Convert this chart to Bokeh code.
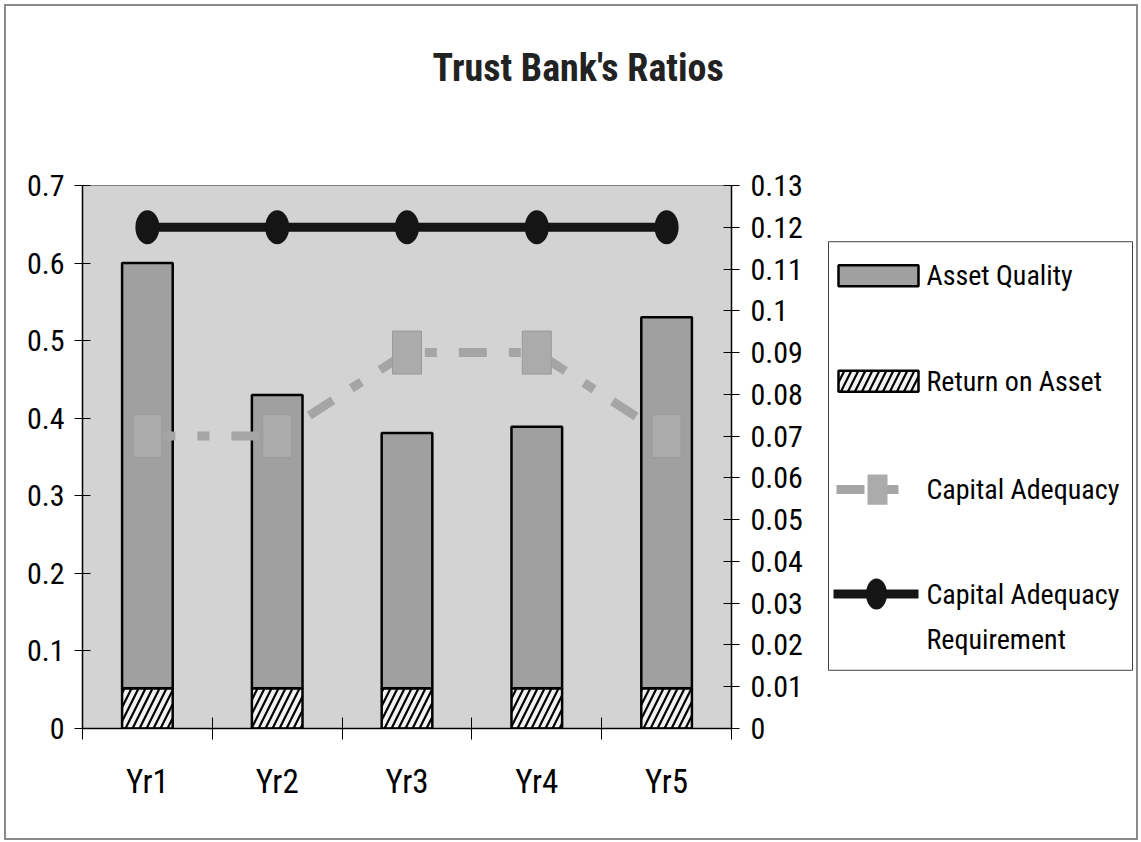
from bokeh.plotting import figure
from bokeh.layouts import row
from bokeh.models import (Range1d, LinearAxis, FixedTicker, Title, ColumnDataSource)
from bokeh.core.properties import value
from bokeh.embed import file_html
from bokeh.resources import INLINE

# ---------------- data ----------------
years = ["Yr1", "Yr2", "Yr3", "Yr4", "Yr5"]
return_on_asset = [0.052, 0.052, 0.052, 0.052, 0.052]
asset_quality = [0.548, 0.378, 0.329, 0.337, 0.478]
capital_adequacy = [0.07, 0.07, 0.09, 0.09, 0.07]
capital_requirement = [0.12, 0.12, 0.12, 0.12, 0.12]

left_ticks = [0.0, 0.1, 0.2, 0.3, 0.4, 0.5, 0.6, 0.7]
left_labels = ["0", "0.1", "0.2", "0.3", "0.4", "0.5", "0.6", "0.7"]
right_ticks = [0.0, 0.01, 0.02, 0.03, 0.04, 0.05, 0.06, 0.07, 0.08, 0.09,
               0.1, 0.11, 0.12, 0.13]
right_labels = ["0", "0.01", "0.02", "0.03", "0.04", "0.05", "0.06", "0.07",
                "0.08", "0.09", "0.1", "0.11", "0.12", "0.13"]
title_text = "Trust Bank's Ratios"
legend_labels = ["Asset Quality", "Return on Asset", "Capital Adequacy",
                 "Capital Adequacy\nRequirement"]

FONT = "Liberation Sans Narrow, Arial Narrow, Roboto Condensed, sans-serif"

BAR_FILL = "#a0a0a0"
HATCH_BG = "#f2f2f2"
CA_LINE = "#a5a5a5"
CA_MARK = "#ababab"
REQ = "#151515"

# ---------------- derived ----------------
n = len(years)
xc = [i + 0.5 for i in range(n)]
aq_bottom = return_on_asset
aq_top = [r + a for r, a in zip(return_on_asset, asset_quality)]

src = ColumnDataSource(dict(x=xc, roa=return_on_asset, aqb=aq_bottom, aqt=aq_top,
                            ca=capital_adequacy, req=capital_requirement))

H = 832
p = figure(width=799, height=H, output_backend="svg", toolbar_location=None,
           x_range=Range1d(0, n), y_range=Range1d(0, 0.7), title=None)
p.extra_y_ranges = {"y2": Range1d(0, 0.13)}

p.min_border_left = 76
p.min_border_right = 70
p.min_border_top = 179
p.min_border_bottom = 110

p.background_fill_color = "#d3d3d3"
p.border_fill_color = "white"
p.outline_line_color = "#808080"
p.outline_line_width = 1
p.xgrid.visible = False
p.ygrid.visible = False

# title (a blank spacer panel sits between the frame and the title)
p.add_layout(Title(text=" ", text_font_size="10px", standoff=83), "above")
p.add_layout(Title(text=title_text, align="left", offset=350, standoff=0,
                   vertical_align="bottom", text_font=FONT, text_font_size="38px",
                   text_font_style="bold", text_color="#222222"), "above")

# bars
bar_w = 0.39
bar_kw = dict(line_color="black", line_width=2.5)
hatch_kw = dict(fill_color=HATCH_BG, hatch_pattern="/", hatch_color="black",
                hatch_weight=2.2, hatch_scale=14)
p.vbar(x="x", top="roa", bottom=0, width=bar_w, source=src, **bar_kw, **hatch_kw)
p.vbar(x="x", top="aqt", bottom="aqb", width=bar_w, source=src,
       fill_color=BAR_FILL, **bar_kw)

# capital adequacy (secondary axis)
ca_kw = dict(line_color=CA_LINE, line_width=9, line_dash="28 22 12 22")
p.line("x", "ca", source=src, y_range_name="y2", **ca_kw)
p.rect("x", "ca", width=29, height=43, width_units="screen", height_units="screen",
       source=src, y_range_name="y2", fill_color=CA_MARK, line_color="#9a9a9a",
       line_width=1)

# requirement
req_kw = dict(line_color=REQ, line_width=9)
p.line("x", "req", source=src, y_range_name="y2", **req_kw)
p.ellipse("x", "req", width=24, height=34, width_units="screen",
          height_units="screen", source=src, y_range_name="y2",
          fill_color=REQ, line_color=None)

# axes
p.xaxis.ticker = FixedTicker(ticks=xc, minor_ticks=list(range(n + 1)))
p.xaxis.major_label_overrides = {x: yv for x, yv in zip(xc, years)}
p.xaxis.major_tick_in = 0
p.xaxis.major_tick_out = 0
p.xaxis.minor_tick_in = 11
p.xaxis.minor_tick_out = 11
p.xaxis.minor_tick_line_color = "black"
p.xaxis.axis_line_color = "black"
p.xaxis.axis_line_width = 1.5
p.xaxis.major_label_standoff = 22
p.xaxis.major_label_text_font = FONT
p.xaxis.major_label_text_font_size = "33px"
p.xaxis.major_label_text_color = "black"

p.yaxis.ticker = FixedTicker(ticks=left_ticks, minor_ticks=[])
p.yaxis.major_label_overrides = {t: l for t, l in zip(left_ticks, left_labels)}
p.yaxis.major_tick_in = 8
p.yaxis.major_tick_out = 8
p.yaxis.minor_tick_line_color = None
p.yaxis.axis_line_color = "black"
p.yaxis.axis_line_width = 1.5
p.yaxis.major_label_standoff = 10
p.yaxis.major_label_text_font = FONT
p.yaxis.major_label_text_font_size = "30px"
p.yaxis.major_label_text_color = "black"

ax2 = LinearAxis(y_range_name="y2",
                 ticker=FixedTicker(ticks=right_ticks, minor_ticks=[]))
ax2.major_label_overrides = {t: l for t, l in zip(right_ticks, right_labels)}
ax2.major_tick_in = 8
ax2.major_tick_out = 8
ax2.minor_tick_line_color = None
ax2.axis_line_color = "black"
ax2.axis_line_width = 1.5
ax2.major_label_standoff = 11
ax2.major_label_text_font = FONT
ax2.major_label_text_font_size = "30px"
ax2.major_label_text_color = "black"
p.add_layout(ax2, "right")

# ---------------- legend panel (pixel-like coordinates) ----------------
q = figure(width=331, height=H, output_backend="svg", toolbar_location=None,
           x_axis_type=None, y_axis_type=None,
           x_range=Range1d(805, 1136), y_range=Range1d(726, 185))
q.min_border = 0
q.outline_line_color = None
q.background_fill_color = "white"
q.border_fill_color = "white"
q.grid.visible = False

# legend layout constants
box_l, box_r, box_t, box_b = 828, 1132, 241, 668
sw_l, sw_r, sw_h = 838, 918, 21
row_y = [275, 380, 488, 592]
text_x, line_gap = 926, 45

q.quad(left=box_l, right=box_r, top=box_t, bottom=box_b, fill_color="white",
       line_color="#404040", line_width=1)
# Asset Quality swatch
q.quad(left=sw_l, right=sw_r, top=row_y[0] - sw_h / 2, bottom=row_y[0] + sw_h / 2,
       fill_color=BAR_FILL, **bar_kw)
# Return on Asset swatch
q.quad(left=sw_l, right=sw_r, top=row_y[1] - sw_h / 2, bottom=row_y[1] + sw_h / 2,
       **bar_kw, **hatch_kw)
# Capital Adequacy sample
q.line([836, 912], [row_y[2], row_y[2]], **ca_kw)
q.rect(877, row_y[2], width=20, height=30, fill_color=CA_MARK, line_color=None)
# Requirement sample
q.line([833, 918], [row_y[3], row_y[3]], **req_kw)
q.ellipse(876, row_y[3], width=21, height=31, fill_color=REQ, line_color=None)

# legend texts
tx, ty, tt = [], [], []
for lab, y0 in zip(legend_labels, row_y):
    for k, part in enumerate(lab.split("\n")):
        tx.append(text_x)
        ty.append(y0 + k * line_gap)
        tt.append(part)
q.text(x=tx, y=ty, text=tt, text_font=value(FONT), text_font_size="28px",
       text_baseline="middle", text_align="left", text_color="black")

layout = row(p, q, spacing=0,
             styles={"border": "2px solid #8a8a8a", "margin": "4px"})

open("out.html", "w").write(file_html(layout, INLINE))
